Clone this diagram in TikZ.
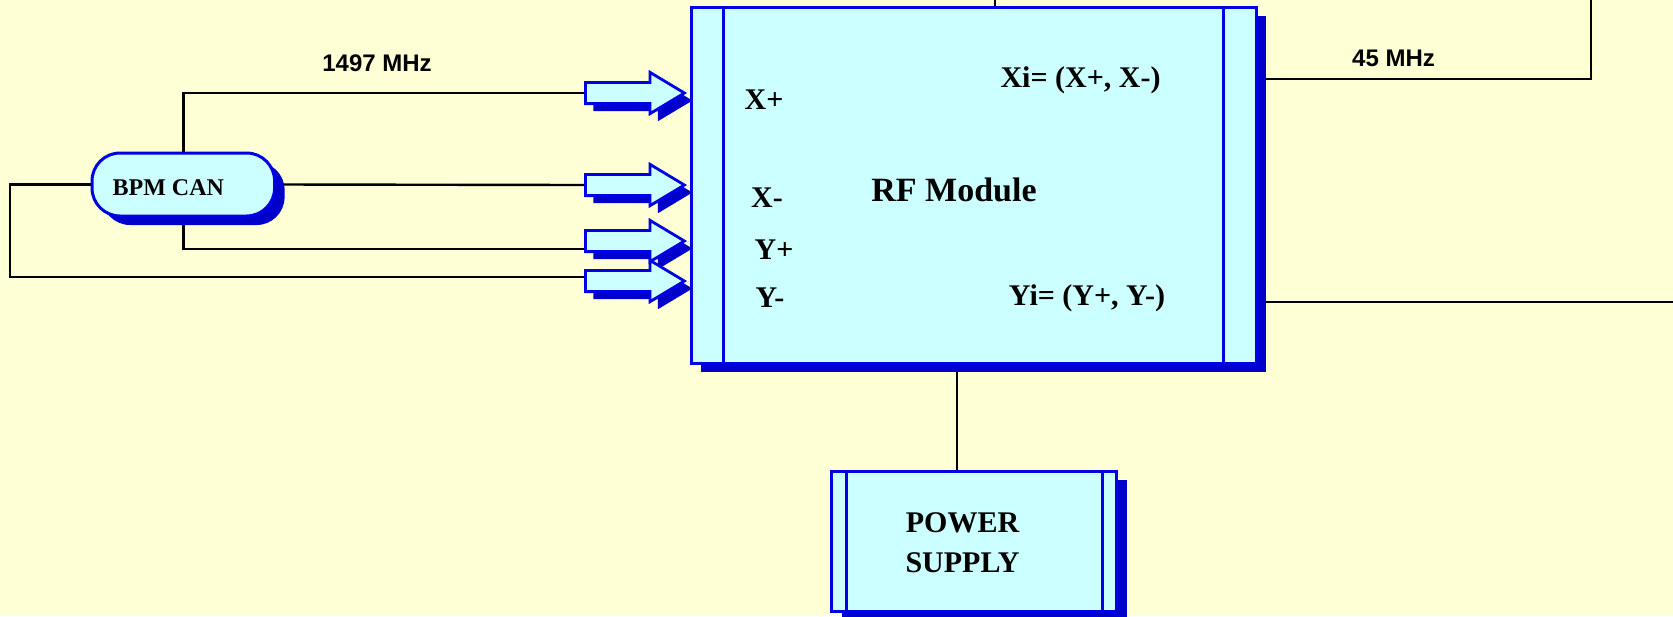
\documentclass[tikz,border=0pt]{standalone}
\usepackage{fontspec}
\setmainfont{Liberation Serif}
\newfontfamily\arialfont{Liberation Sans}
\usetikzlibrary{shapes.arrows,shadows,backgrounds}
\definecolor{paperyellow}{RGB}{255,255,214}
\definecolor{boxcyan}{RGB}{204,255,255}
\definecolor{edgeblue}{RGB}{0,0,230}
\definecolor{shadeblue}{RGB}{0,0,204}
\tikzset{
  wire/.style={line width=1.2pt, draw=black},
  panel/.style={
    rectangle,
    fill=boxcyan,
    draw=edgeblue,
    line width=1.5pt,
    inner sep=0pt,
    drop shadow={shadow xshift=5pt, shadow yshift=-4.5pt, opacity=1, fill=shadeblue}
  },
  can-box/.style={panel, rounded corners=14pt},
  fat-arrow/.style={
    single arrow,
    fill=boxcyan,
    draw=edgeblue,
    line width=1.4pt,
    minimum height=49.5pt,
    minimum width=19.3pt,
    inner xsep=0pt,
    inner ysep=4.6pt,
    single arrow head extend=5.05pt,
    single arrow tip angle=62,
    anchor=tail,
    drop shadow={shadow xshift=4pt, shadow yshift=-3.75pt, opacity=1, fill=shadeblue}
  },
  label-serif/.style={font=\bfseries\fontsize{15}{18}\selectfont, inner sep=0pt},
  label-sans/.style={font=\arialfont\bfseries\fontsize{12}{14}\selectfont, inner sep=0pt}
}
\newcommand{\panelbars}[2]{%
  \draw[edgeblue, line width=1.5pt] ([xshift=#2]#1.north west) -- ([xshift=#2]#1.south west);
  \draw[edgeblue, line width=1.5pt] ([xshift=-#2]#1.north east) -- ([xshift=-#2]#1.south east);
}

\begin{document}
\begin{tikzpicture}[x=0.5pt, y=-0.5pt]
  \useasboundingbox (0,0) rectangle (1673,616);
  % boxes
  \node[panel, minimum width=282.5pt, minimum height=178pt] (rf) at (973.5,185) {};
  \panelbars{rf}{17pt}
  \node[panel, minimum width=142.5pt, minimum height=70.3pt] (psu) at (974.2,541.4) {};
  \panelbars{psu}{8pt}
  \node[can-box, minimum width=91.3pt, minimum height=31.5pt] (bpm) at (183.3,184.5) {};
  \node[font=\bfseries\fontsize{12}{14}\selectfont, inner sep=0pt] (bpmtext) at (168.3,188) {BPM CAN};
  \foreach \name/\ypos in {a1/93, a2/185, a3/241, a4/281} {
    \node[fat-arrow] (\name) at (584,\ypos) {};
  }
  % labels
  \node[label-sans] (f1497) at (377,63) {1497 MHz};
  \node[label-sans] (f45) at (1393.5,58) {45 MHz};
  \node[label-serif] (xp) at (764,100) {X+};
  \node[label-serif] (xm) at (767,198) {X-};
  \node[label-serif] (yp) at (774,250) {Y+};
  \node[label-serif] (ym) at (770,298) {Y-};
  \node[label-serif] (xi) at (1080.5,80) {Xi= (X+, X-)};
  \node[label-serif] (yi) at (1087,298) {Yi= (Y+, Y-)};
  \node[font=\bfseries\fontsize{17}{20}\selectfont, inner sep=0pt] (rflabel) at (954,190) {RF Module};
  \node[inner sep=0pt, align=center, font=\bfseries\fontsize{15}{20}\selectfont] (psulabel) at (962.5,543) {POWER\\SUPPLY};
  % wires behind the boxes
  \begin{scope}[on background layer]
    \fill[paperyellow] (0,0) rectangle (1673,616);
    \coordinate (lft) at (10,277);
    \draw[wire] (bpm.north) |- (a1.tail);
    \draw[wire] (bpm.east) -- (a2.tail);
    \draw[wire] (bpm.south) |- ([yshift=-4pt]a3.tail);
    \draw[wire] (bpm.west) -| (lft) -- ([yshift=2pt]a4.tail);
    \coordinate (topwire) at (995,0);
    \draw[wire] (topwire) -- (topwire |- rf.north);
    \coordinate (xiturn) at (1591,79);
    \draw[wire] (rf.east |- xiturn) -- (xiturn) -- (xiturn |- topwire);
    \coordinate (yiend) at (1673,302);
    \draw[wire] (rf.east |- yiend) -- (yiend);
    \draw[wire] ([xshift=-8.6pt]psu.north) -- ([xshift=-8.6pt]psu.north |- rf.south);
  \end{scope}
\end{tikzpicture}
\end{document}
